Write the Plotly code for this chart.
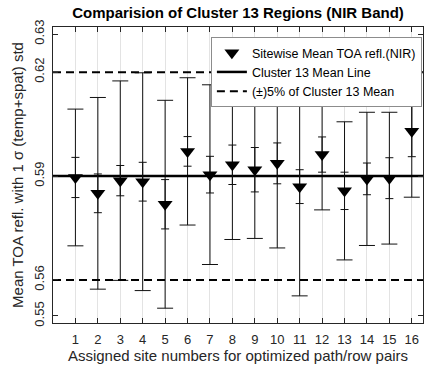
import plotly.graph_objects as go

# Site numbers and per-site statistics of NIR TOA reflectance
sites = list(range(1, 17))
site_mean = [0.5893, 0.5848, 0.5884, 0.5881, 0.5817, 0.5967, 0.5901, 0.5929,
             0.5915, 0.5933, 0.5867, 0.5958, 0.5855, 0.5889, 0.5891, 0.6024]
# 1-sigma temporal + spatial std (outer bars)
std_total = [0.0194, 0.0272, 0.0283, 0.0309, 0.0295, 0.0209, 0.0255, 0.0212,
             0.0195, 0.0240, 0.0310, 0.0157, 0.0196, 0.0189, 0.0187, 0.0187]
# 1-sigma temporal std (inner bars)
std_temp = [0.0057, 0.0055, 0.0043, 0.0055, 0.0070, 0.0042, 0.0052, 0.0056,
            0.0063, 0.0058, 0.0048, 0.0050, 0.0053, 0.0045, 0.0058, 0.0072]

cluster_mean = 0.5897
band_frac = 0.05
upper = cluster_mean * (1 + band_frac)
lower = cluster_mean * (1 - band_frac)

x_lo, x_hi = 0, 16.5
y_lo, y_hi = 0.548, 0.632
y_ticks = [0.55, lower, cluster_mean, upper, 0.63]

ink = "#262626"
font_family = "Liberation Sans, Arial, Helvetica, sans-serif"

fig = go.Figure()

# Outer (temp+spat) error bars
fig.add_trace(go.Scatter(
    x=sites, y=site_mean, mode="markers",
    marker=dict(size=1, opacity=0),
    error_y=dict(type="data", array=std_total, width=8, thickness=1, color="#111111"),
    showlegend=False, hoverinfo="skip",
))

# Cluster mean line
fig.add_trace(go.Scatter(
    x=[x_lo, x_hi], y=[cluster_mean, cluster_mean], mode="lines",
    line=dict(color="black", width=2.5),
    name="Cluster 13 Mean Line", legendrank=2,
))

# +/- 5% band lines
fig.add_trace(go.Scatter(
    x=[x_lo, x_hi, None, x_lo, x_hi], y=[upper, upper, None, lower, lower],
    mode="lines", line=dict(color="black", width=2, dash="8px,5px"),
    name="(±)5% of Cluster 13 Mean", legendrank=3,
))

# Site means with inner (temporal) error bars
fig.add_trace(go.Scatter(
    x=sites, y=site_mean, mode="markers",
    marker=dict(symbol="triangle-down", size=13, color="black"),
    error_y=dict(type="data", array=std_temp, width=4, thickness=1, color="#111111"),
    name="Sitewise Mean TOA refl.(NIR)", legendrank=1,
))

fig.update_layout(
    width=428, height=369,
    margin=dict(l=53, r=5, t=27, b=46),
    paper_bgcolor="white", plot_bgcolor="white",
    font=dict(family=font_family, size=13, color=ink),
    title=dict(
        text="<b>Comparision of Cluster 13 Regions (NIR Band)</b>",
        x=0.5, xref="paper", y=1 - 13 / 369, yref="container",
        xanchor="center", yanchor="middle",
        font=dict(size=15, color="black"),
    ),
    legend=dict(
        x=0.997, y=0.966, xanchor="right", yanchor="top",
        bgcolor="white", bordercolor="#8c8c8c", borderwidth=1,
        font=dict(size=12.5, color="black"), traceorder="normal",
    ),
    showlegend=True,
)

fig.update_xaxes(
    range=[x_lo, x_hi], tickvals=sites, ticktext=[str(s) for s in sites],
    ticks="inside", ticklen=5, tickcolor=ink, ticklabelstandoff=4,
    showline=True, linecolor=ink, linewidth=1, mirror="ticks",
    showgrid=True, gridcolor="#e3e3e3", gridwidth=1, zeroline=False,
    tickfont=dict(size=13),
    title=dict(text="Assigned site numbers for optimized path/row pairs",
               font=dict(size=15), standoff=2),
)

fig.update_yaxes(
    range=[y_lo, y_hi], tickvals=y_ticks, ticktext=[f"{v:.2f}" for v in y_ticks],
    tickangle=-90, ticks="inside", ticklen=5, tickcolor=ink, ticklabelstandoff=3,
    showline=True, linecolor=ink, linewidth=1, mirror="ticks",
    showgrid=False, zeroline=False,
    tickfont=dict(size=13),
    title=dict(text="Mean TOA refl. with 1 σ (temp+spat) std",
               font=dict(size=15), standoff=4),
)

fig.write_html("out.html")
